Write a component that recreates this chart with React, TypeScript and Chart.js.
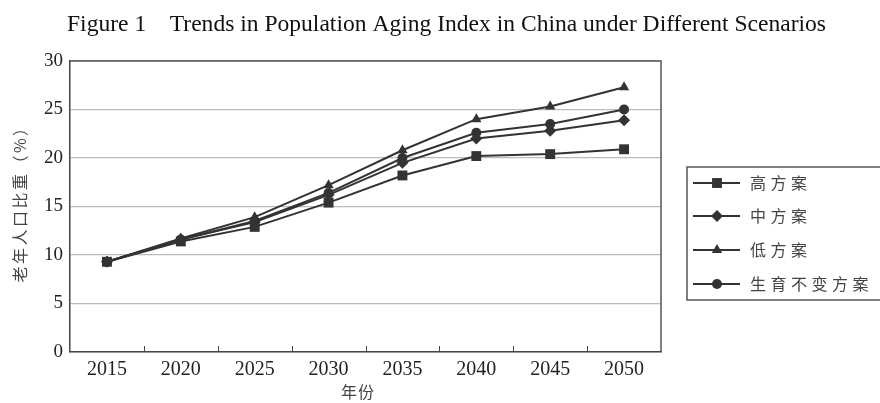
import React, { useEffect, useRef } from "react";
import { Chart, registerables } from "chart.js";

Chart.register(...registerables);

const categories = ["2015", "2020", "2025", "2030", "2035", "2040", "2045", "2050"];
const highPlan = [9.3, 11.4, 12.9, 15.4, 18.2, 20.2, 20.4, 20.9];
const midPlan = [9.3, 11.6, 13.4, 16.2, 19.5, 22.0, 22.8, 23.9];
const lowPlan = [9.3, 11.7, 13.9, 17.2, 20.8, 24.0, 25.3, 27.3];
const constPlan = [9.3, 11.6, 13.5, 16.4, 20.0, 22.6, 23.5, 25.0];
const seriesNames = ["高方案", "中方案", "低方案", "生育不变方案"];
const yTicks = [0, 5, 10, 15, 20, 25, 30];

const titleText = "Figure 1    Trends in Population Aging Index in China under Different Scenarios";
const yTitle = "老年人口比重（%）";
const xTitle = "年份";

const INK = "#333333";

function drawMarker(ctx: CanvasRenderingContext2D, style: string, r: number, x: number, y: number) {
  ctx.beginPath();
  if (style === "rect") {
    const s = r * Math.SQRT1_2;
    ctx.rect(x - s, y - s, 2 * s, 2 * s);
  } else if (style === "rectRot") {
    const s = r;
    ctx.moveTo(x, y - s);
    ctx.lineTo(x + s, y);
    ctx.lineTo(x, y + s);
    ctx.lineTo(x - s, y);
    ctx.closePath();
  } else if (style === "triangle") {
    ctx.moveTo(x, y - r);
    ctx.lineTo(x + r * 0.866, y + r * 0.5);
    ctx.lineTo(x - r * 0.866, y + r * 0.5);
    ctx.closePath();
  } else {
    ctx.arc(x, y, r, 0, Math.PI * 2);
  }
  ctx.fill();
}

const decorPlugin = {
  id: "decor",
  afterDraw(chart: any) {
    const ctx = chart.ctx as CanvasRenderingContext2D;
    const area = chart.chartArea;
    const xs = chart.scales.x;
    ctx.save();
    // title, fitted to the reference width
    ctx.fillStyle = "#111";
    ctx.font = "24px 'Liberation Serif', 'DejaVu Serif', serif";
    ctx.textAlign = "left";
    ctx.textBaseline = "alphabetic";
    const w = ctx.measureText(titleText).width;
    ctx.save();
    ctx.translate(67, 31);
    ctx.scale(759 / w, 1);
    ctx.fillText(titleText, 0, 0);
    ctx.restore();

    // frame top/right
    ctx.strokeStyle = "#555";
    ctx.lineWidth = 1.5;
    ctx.beginPath();
    ctx.moveTo(area.left, area.top);
    ctx.lineTo(area.right, area.top);
    ctx.lineTo(area.right, area.bottom);
    ctx.stroke();

    // inward x tick marks between categories
    ctx.strokeStyle = "#444";
    ctx.lineWidth = 1;
    for (let i = 1; i < categories.length; i++) {
      const x = Math.round((xs.getPixelForValue(i - 1) + xs.getPixelForValue(i)) / 2) + 0.5;
      ctx.beginPath();
      ctx.moveTo(x, area.bottom);
      ctx.lineTo(x, area.bottom - 6);
      ctx.stroke();
    }

    // axis titles
    ctx.fillStyle = "#444";
    ctx.font = "16px 'Noto Sans CJK SC', sans-serif";
    ctx.textBaseline = "middle";
    (ctx as any).letterSpacing = "2.5px";
    ctx.save();
    ctx.translate(20, 200);
    ctx.rotate(-Math.PI / 2);
    ctx.textAlign = "center";
    ctx.fillText(yTitle, 0, 0);
    ctx.restore();
    (ctx as any).letterSpacing = "1px";
    ctx.textAlign = "center";
    ctx.fillText(xTitle, 358, 392);

    // legend
    const lx = 687, ly = 167, lw = 200, lh = 133;
    ctx.strokeStyle = "#555";
    ctx.lineWidth = 1.5;
    ctx.strokeRect(lx, ly, lw, lh);
    const rows = [183, 216, 250, 284];
    chart.data.datasets.forEach((ds: any, i: number) => {
      const y = rows[i];
      ctx.strokeStyle = INK;
      ctx.lineWidth = 2;
      ctx.beginPath();
      ctx.moveTo(693, y);
      ctx.lineTo(740, y);
      ctx.stroke();
      ctx.fillStyle = INK;
      drawMarker(ctx, ds.pointStyle, ds.pointRadius as number, 717, y);
      ctx.fillStyle = "#444";
      ctx.font = "16px 'Noto Sans CJK SC', sans-serif";
      (ctx as any).letterSpacing = "4.5px";
      ctx.textAlign = "left";
      ctx.textBaseline = "middle";
      ctx.fillText(ds.label, 750, y);
    });
    ctx.restore();
  },
};

export default function App() {
  const ref = useRef<HTMLCanvasElement | null>(null);
  useEffect(() => {
    document.body.style.margin = "0";
    if (!ref.current) return;
    const mk = (label: string, data: number[], style: string, radius: number) => ({
      label,
      data,
      borderColor: INK,
      backgroundColor: INK,
      pointBackgroundColor: INK,
      pointBorderColor: INK,
      borderWidth: 2,
      pointStyle: style,
      pointRadius: radius,
      pointBorderWidth: 0,
      tension: 0,
    });
    const chart = new Chart(ref.current, {
      type: "line",
      data: {
        labels: categories,
        datasets: [
          mk(seriesNames[0], highPlan, "rect", 7),
          mk(seriesNames[1], midPlan, "rectRot", 6),
          mk(seriesNames[2], lowPlan, "triangle", 6),
          mk(seriesNames[3], constPlan, "circle", 5),
        ],
      },
      options: {
        animation: false,
        responsive: false,
        maintainAspectRatio: false,
        layout: { padding: { top: 61, right: 219, left: 0, bottom: 0 } },
        plugins: { legend: { display: false }, title: { display: false }, tooltip: { enabled: false } },
        scales: {
          x: {
            offset: true,
            grid: { display: false, drawTicks: false, tickLength: 0 },
            border: { display: true, color: "#444", width: 1.5 },
            ticks: {
              color: "#222",
              font: { family: "'Liberation Serif', serif", size: 20 },
              padding: 6,
            },
            afterFit(scale: any) {
              scale.height = 51;
            },
          },
          y: {
            min: 0,
            max: 30,
            afterBuildTicks(scale: any) {
              scale.ticks = yTicks.map((v) => ({ value: v }));
            },
            grid: { color: "#bbbbbb", lineWidth: 1.2, drawTicks: false },
            border: { display: true, color: "#444", width: 1.5 },
            ticks: {
              color: "#222",
              font: { family: "'Liberation Serif', serif", size: 19 },
              padding: 7,
            },
            afterFit(scale: any) {
              scale.width = 70;
            },
          },
        },
      },
      plugins: [decorPlugin],
    });
    return () => chart.destroy();
  }, []);
  return <canvas ref={ref} width={880} height={403} style={{ display: "block", width: 880, height: 403 }} />;
}
